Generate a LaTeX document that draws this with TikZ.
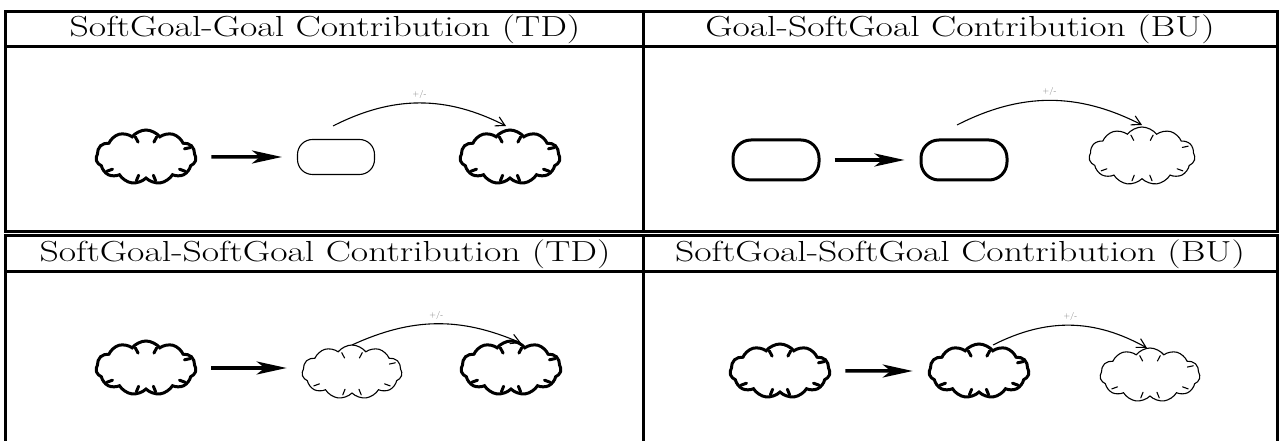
\documentclass[tikz,border=0pt]{standalone}
\usepackage{fontspec}
\usetikzlibrary{shapes.symbols,arrows.meta,calc}
\tikzset{
 thickcloud/.style={draw, cloud, cloud puffs=11, cloud puff arc=105, cloud ignores aspect, minimum width=100pt, minimum height=54pt, inner sep=0pt, line width=3pt},
 thincloud/.style={thickcloud, line width=1.1pt},
 thickgoal/.style={draw, rounded corners=18pt, minimum width=86pt, minimum height=40pt, inner sep=0pt, line width=3pt},
 thingoal/.style={draw, rounded corners=15pt, minimum width=77pt, minimum height=35pt, inner sep=0pt, line width=1.1pt},
 bigarrow/.style={line width=3.5pt, -{Stealth[length=30pt,width=13pt,inset=8pt]}, shorten <=14pt, shorten >=15pt},
 contrib/.style={line width=1.1pt, -{Straight Barb[length=9pt,width=10pt]}},
 pm/.style={text=gray, font=\fontsize{8}{8}\selectfont, inner sep=0pt},
 title/.style={font=\fontsize{29}{30}\selectfont, inner sep=0pt},
 gridline/.style={line width=3pt},
 curl/.style={line cap=round}
}
\newcommand\cloudcurls[2]{%
  \foreach \ang in {62,118,12,200,248,292,340}
    \draw[curl, line width=#2] ($(#1.\ang)!4pt!(#1.center)$) -- ($(#1.\ang)!10pt!(#1.center)$);}
\begin{document}
\begin{tikzpicture}[x=1pt,y=1pt]
\useasboundingbox (0,0) rectangle (1279,441);
\clip (0,0) rectangle (1279,441);
% tables
\draw[gridline] (5,209) rectangle (1277,429);
\draw[gridline] (5,394) -- (1277,394);
\draw[gridline] (643,209) -- (643,429);
\draw[gridline] (5,-20) rectangle (1277,205);
\draw[gridline] (5,169) -- (1277,169);
\draw[gridline] (643,-20) -- (643,205);
% titles
\node[title] (t1) at (325,412) {\scalebox{1.3}[1]{SoftGoal-Goal Contribution (TD)}};
\node[title] (t2) at (960,412) {\scalebox{1.3}[1]{Goal-SoftGoal Contribution (BU)}};
\node[title] (t3) at (325,187) {\scalebox{1.3}[1]{SoftGoal-SoftGoal Contribution (TD)}};
\node[title] (t4) at (960,187) {\scalebox{1.3}[1]{SoftGoal-SoftGoal Contribution (BU)}};
% panel 1
\node[thickcloud] (a1) at (146,284) {};
\node[thingoal] (b1) at (336,284) {};
\node[thickcloud] (c1) at (510,284) {};
\cloudcurls{a1}{3pt}\cloudcurls{c1}{3pt}
\draw[bigarrow] (a1.east) -- (b1.west);
\coordinate (s1) at (333,315);
\coordinate (e1) at (506,315);
\draw[contrib] (s1) to[bend left=27] node[pm, above=4pt] (l1) {+/-} (e1);
% panel 2
\node[thickgoal] (a2) at (776,281) {};
\node[thickgoal] (b2) at (964,281) {};
\node[thincloud, minimum width=106pt, minimum height=58pt] (c2) at (1142,285) {};
\cloudcurls{c2}{1.1pt}
\draw[bigarrow] (a2.east) -- (b2.west);
\coordinate (s2) at (957,316);
\coordinate (e2) at (1142,316);
\draw[contrib] (s2) to[bend left=27] node[pm, above=4pt] (l2) {+/-} (e2);
% panel 3
\node[thickcloud] (a3) at (146,73) {};
\node[thincloud] (b3) at (352,69) {};
\node[thickcloud] (c3) at (511,73) {};
\cloudcurls{a3}{3pt}\cloudcurls{b3}{1.1pt}\cloudcurls{c3}{3pt}
\draw[bigarrow] (a3.east) -- (a3.east -| b3.west);
\coordinate (s3) at (352,96);
\coordinate (e3) at (521,98);
\draw[contrib] (s3) to[bend left=24] node[pm, above=4pt] (l3) {+/-} (e3);
% panel 4
\node[thickcloud] (a4) at (780,70) {};
\node[thickcloud] (b4) at (979,70) {};
\node[thincloud] (c4) at (1150,66) {};
\cloudcurls{a4}{3pt}\cloudcurls{b4}{3pt}\cloudcurls{c4}{1.1pt}
\draw[bigarrow] (a4.east) -- (b4.west);
\coordinate (s4) at (993,96);
\coordinate (e4) at (1147,93);
\draw[contrib] (s4) to[bend left=28] node[pm, above=4pt] (l4) {+/-} (e4);
\end{tikzpicture}
\end{document}
